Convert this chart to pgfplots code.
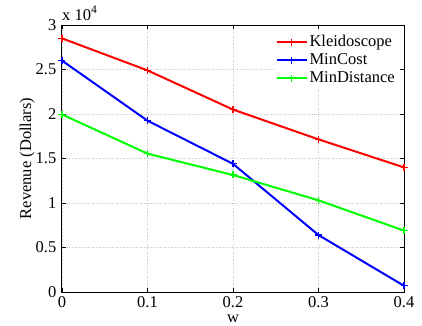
\documentclass[border=0pt]{standalone}
\usepackage{fontspec}
\setmainfont{Liberation Serif}
\usepackage{pgfplots}
\pgfplotsset{compat=1.18}
\begin{document}
\fontsize{16.5}{19}\selectfont
\begin{tikzpicture}
\begin{axis}[
  name=ax,
  scale only axis, width=342pt, height=267pt,
  xmin=0, xmax=0.4, ymin=0, ymax=30000,
  xtick={0,0.1,0.2,0.3,0.4},
  xticklabels={0,0.1,0.2,0.3,0.4},
  ytick={0,5000,10000,15000,20000,25000,30000},
  yticklabels={0,0.5,1,1.5,2,2.5,3},
  scaled y ticks=false,
  extra description/.code={\node[anchor=base west, inner sep=0pt] at ([yshift=5pt]rel axis cs:0,1) {x 10\textsuperscript{4}};},
  tick align=inside, xtick pos=both, ytick pos=both,
  major tick length=4pt,
  tick style={black, line width=0.7pt},
  axis line style={black, line width=1pt},
  grid=major,
  major grid style={dotted, gray!45, line width=0.6pt},
  xlabel={w}, ylabel={Revenue (Dollars)},
  xlabel style={at={(axis description cs:0.5,-0.1145)}, anchor=base, inner sep=0pt},
  ylabel style={at={(axis description cs:-0.0906,0.5)}, anchor=base},
  xticklabel style={anchor=base, yshift=-15.5pt, inner sep=0.5pt},
  legend style={at={(rel axis cs:1,1)}, anchor=north east, xshift=-5pt, yshift=-6pt,
    draw=none, fill=white, inner sep=2pt, row sep=0.5pt,
    nodes={inner sep=2pt}},
  legend cell align=left,
  legend image code/.code={\draw[mark repeat=2,mark phase=2,#1] plot coordinates {(0pt,0pt) (15pt,0pt) (30pt,0pt)};},
  every axis plot/.append style={line width=2pt, mark=+, mark size=3.5pt, mark options={line width=1.3pt}},
]
\addplot[color=red] coordinates {(0,28500) (0.1,24900) (0.2,20500) (0.3,17150) (0.4,14000)};
\addlegendentry{Kleidoscope}
\addplot[color=blue] coordinates {(0,26000) (0.1,19250) (0.2,14400) (0.3,6400) (0.4,700)};
\addlegendentry{MinCost}
\addplot[color=green] coordinates {(0,19950) (0.1,15550) (0.2,13150) (0.3,10300) (0.4,6900)};
\addlegendentry{MinDistance}
\end{axis}
\pgfresetboundingbox
\path[use as bounding box] ([shift={(-62pt,-33pt)}]ax.south west) rectangle ([shift={(18pt,25pt)}]ax.north east);
\end{tikzpicture}
\end{document}
